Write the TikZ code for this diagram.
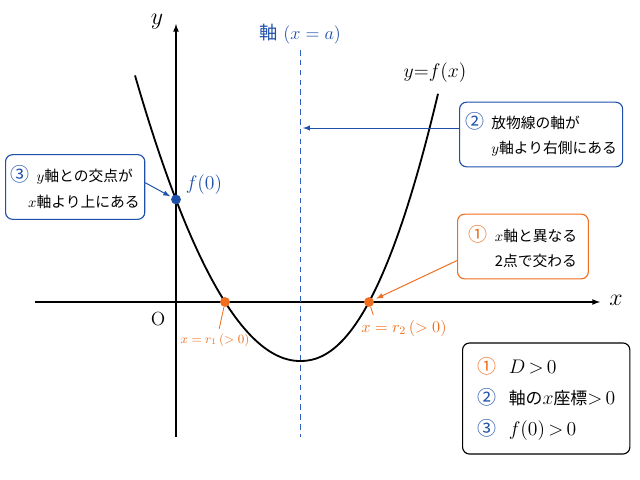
\RequirePackage{fix-cm}
\documentclass[tikz,border=0pt]{standalone}
\usepackage{fontspec}
\newfontfamily\jpfont{Noto Sans CJK JP}
\usetikzlibrary{positioning}
\definecolor{jikublue}{RGB}{30,80,170}
\definecolor{dashblue}{RGB}{45,95,190}
\definecolor{kaiorange}{RGB}{240,110,30}
\newcommand{\summath}[1]{{\fontsize{14}{22}\selectfont$#1$}}
\newcommand{\maru}[2]{\textcolor{#1}{\fontsize{13.5}{13.5}\selectfont #2}}

\begin{document}
\begin{tikzpicture}[x=0.025cm, y=-0.025cm,
    ax/.style={line width=0.9pt, -latex},
    dot/.style={circle, fill, inner sep=0pt, minimum size=7pt},
    callout/.style={draw, line width=0.8pt, rounded corners=5pt, align=left, fill=white,
      font=\jpfont\fontsize{10.5}{18}\selectfont, minimum height=46pt, anchor=west},
    lead/.style={kaiorange, line width=0.6pt}]

	\useasboundingbox (0,0) rectangle (640,480);

	% axes
	\coordinate (xl) at (35,302);
	\coordinate (xr) at (600,302);
	\coordinate (yb) at (176,437);
	\coordinate (yt) at (176,24);
	\draw[ax] (xl) -- (xr);
	\draw[ax] (yb) -- (yt);
	\node [font=\fontsize{17}{17}\selectfont] (xlab) at (616,300) {$x$};
	\node [font=\fontsize{17}{17}\selectfont] (ylab) at (157,22) {$y$};
	\node [font=\fontsize{13.5}{13.5}\selectfont] (O) at (158,319) {O};

	% axis of the parabola
	\coordinate (jt) at (300,50);
	\coordinate (jb) at (300,437);
	\draw[dashblue, line width=0.7pt, dash pattern=on 4pt off 3pt] (jt) -- (jb);
	\node [jikublue, font=\fontsize{13}{13}\selectfont, above=1pt of jt] (jlab) {{\jpfont 軸} $(x=a)$};

	% parabola
	\draw[line width=1.3pt] plot[domain=135:300, samples=60] (\x, {361-59*((300-\x)/75)^2})
		-- plot[domain=300.5:438, samples=60] (\x, {361-59*((\x-300)/69)^2.18});
	\node [font=\fontsize{14}{14}\selectfont] (fxlab) at (435,73) {$y{=}f(x)$};

	% points
	\node [dot, jikublue] (f0) at (176,199.5) {};
	\node [dot, kaiorange] (r1) at (225,302) {};
	\node [dot, kaiorange] (r2) at (369,302) {};
	\node [jikublue, font=\fontsize{14}{14}\selectfont] (f0lab) at (204,185) {$f(0)$};
	\node [kaiorange, font=\fontsize{9}{9}\selectfont] (r1lab) at (215,340) {$x=r_1\,(>0)$};
	\node [kaiorange, font=\fontsize{11.5}{11.5}\selectfont] (r2lab) at (404,328) {$x=r_2\,(>0)$};
	\draw[lead] (r1) -- ([xshift=3pt]r1lab.north);
	\draw[lead] (r2) -- ([xshift=12pt]r2lab.north west);

	% callouts
	\node [callout, draw=jikublue, minimum width=99pt] (c3) at (5,187)
		{\maru{jikublue}{③}\hspace{5pt}$y$軸との交点が\\\hspace*{12.5pt}$x$軸より上にある};
	\node [callout, draw=jikublue, minimum width=116pt] (c2) at (459,134.5)
		{\maru{jikublue}{②}\hspace{5pt}放物線の軸が\\\hphantom{\maru{jikublue}{②}\hspace{5pt}}$y$軸より右側にある};
	\node [callout, draw=kaiorange, minimum width=93pt] (c1) at (457,246.5)
		{\maru{kaiorange}{①}\hspace{5pt}$x$軸と異なる\\\hphantom{\maru{kaiorange}{①}\hspace{5pt}}2点で交わる};
	\node [callout, draw=black, minimum width=119pt, minimum height=79pt,
		font=\jpfont\fontsize{12}{22}\selectfont] (sum) at (462,398.5)
		{\maru{kaiorange}{①}\hspace{9pt}\summath{D\,{>}\,0}\\
		 \maru{jikublue}{②}\hspace{9pt}軸の\summath{x}座標\summath{{>}\,0}\\
		 \maru{jikublue}{③}\hspace{9pt}\summath{f(0)\,{>}\,0}};

	\coordinate (ax2) at (303,128);
	\path[-latex, jikublue, line width=0.7pt] (c2.west |- ax2) edge (ax2);
	\path[-latex, jikublue, line width=0.7pt] ([yshift=3pt]c3.east) edge [shorten >=1pt] (f0);
	\path[-latex, kaiorange, line width=0.7pt] ([yshift=-10pt]c1.west) edge [shorten >=2pt] (r2);
\end{tikzpicture}
\end{document}
